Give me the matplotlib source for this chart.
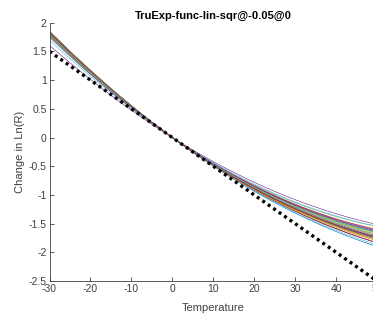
import numpy as np
import matplotlib
matplotlib.use("Agg")
import matplotlib.pyplot as plt

plt.rcParams['font.family'] = ['Liberation Sans', 'DejaVu Sans']

title = "TruExp-func-lin-sqr@-0.05@0"
xlabel = "Temperature"
ylabel = "Change in Ln(R)"
xticks = [-30, -20, -10, 0, 10, 20, 30, 40, 50]
yticks = [-2.5, -2, -1.5, -1, -0.5, 0, 0.5, 1, 1.5, 2]

# fitted coefficients of each lin-sqr curve: y = lin*T + sqr*T^2
lin_coef = [-0.0528, -0.0514, -0.0503, -0.0448, -0.0481, -0.0470, -0.0515,
            -0.0505, -0.0491, -0.0520, -0.0510, -0.0498, -0.0508, -0.0522,
            -0.0495, -0.0512, -0.0500, -0.0517, -0.0507, -0.0525, -0.0493,
            -0.0511, -0.0502, -0.0519, -0.0487, -0.0509, -0.0497, -0.0513]
sqr_coef = [0.000296, 0.000309, 0.000325, 0.000290, 0.000342, 0.000321, 0.000329,
            0.000350, 0.000342, 0.000305, 0.000318, 0.000330, 0.000322, 0.000312,
            0.000335, 0.000315, 0.000328, 0.000300, 0.000338, 0.000302, 0.000336,
            0.000326, 0.000317, 0.000320, 0.000330, 0.000307, 0.000313, 0.000333]
true_slope = -0.05
temp_range = (-30, 50)

colors = ['#0072BD', '#D95319', '#EDB120', '#7E2F8E', '#77AC30', '#4DBEEE', '#A2142F']

fig = plt.figure(figsize=(3.73, 3.18), dpi=100)
ax = fig.add_axes([49.5/373, 37/318, 327.5/373, 258.3/318])

T = np.linspace(temp_range[0], temp_range[1], 200)
for i, (a, b) in enumerate(zip(lin_coef, sqr_coef)):
    ax.plot(T, a*T + b*T**2, color=colors[i % 7], lw=0.45)

ax.plot(T, true_slope*T, color='black', lw=2.4, linestyle=(0, (0.9, 1.1)))

ax.set_xlim(-30, 50)
ax.set_ylim(-2.5, 2)
ax.set_xticks(xticks)
ax.set_yticks(yticks)
ax.set_xticklabels([f"{v:g}" for v in xticks])
ax.set_yticklabels([f"{v:g}" for v in yticks])
for s in ['top', 'right']:
    ax.spines[s].set_visible(False)
for s in ['left', 'bottom']:
    ax.spines[s].set_color('#404040')
    ax.spines[s].set_linewidth(0.6)
ax.tick_params(direction='in', length=3, width=0.6, colors='#404040',
               labelsize=7.5, pad=2)
ax.set_xlabel(xlabel, fontsize=8, color='#404040', labelpad=6.5)
ax.set_ylabel(ylabel, fontsize=8, color='#404040', labelpad=3)
ax.set_title(title, fontsize=8, fontweight='bold', pad=2.5)

fig.savefig("out.png", dpi=100)
